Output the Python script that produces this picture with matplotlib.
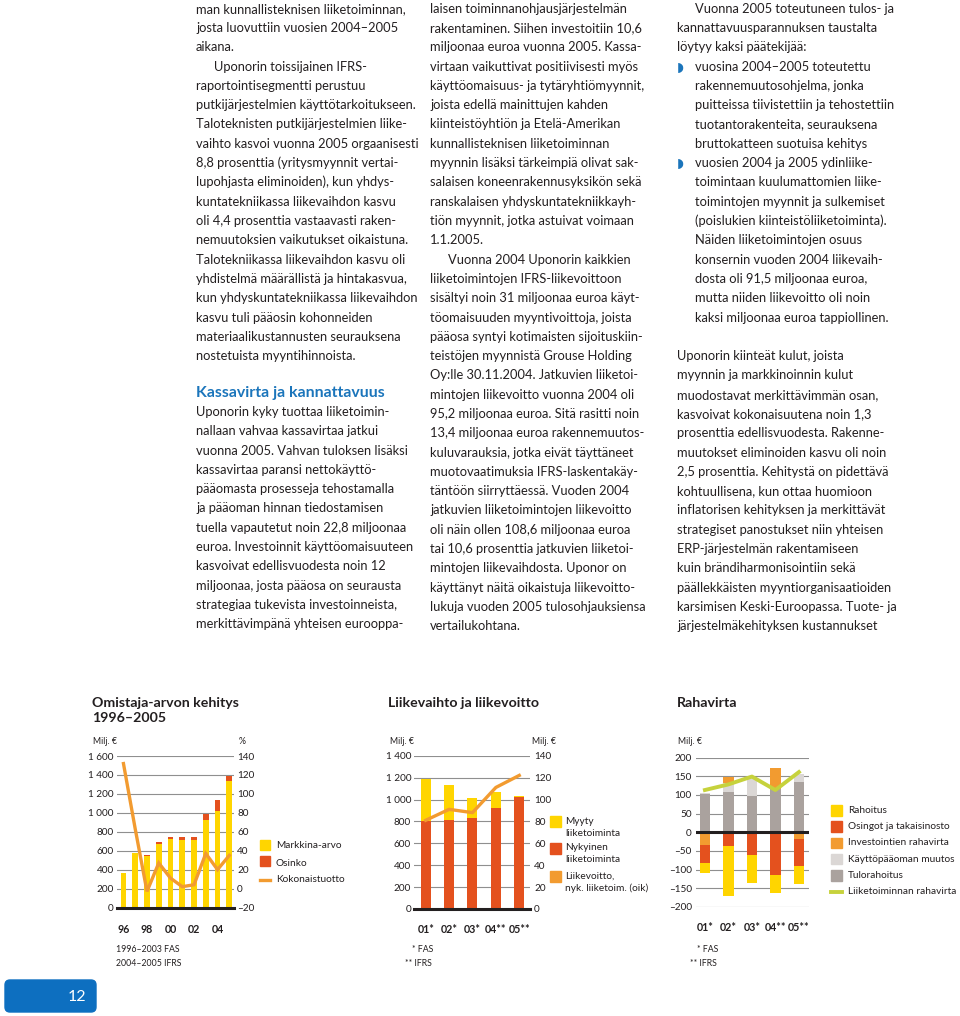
import numpy as np
import matplotlib
matplotlib.use('Agg')
import matplotlib.pyplot as plt
from matplotlib.patches import Rectangle, FancyBboxPatch

plt.rcParams['font.family'] = ['Lato', 'DejaVu Sans']

W, H = 960, 1016
INK = '#231f20'
BLUE = '#1b75bb'
YELLOW = '#ffd500'
RED = '#e4511e'
ORANGE = '#f29b30'
GRAY = '#aaa29e'
LIGHTGRAY = '#dbd7d5'
GREEN = '#c6d23c'
GRID = '#8f8f8f'

# --- Omistaja-arvon kehitys 1996-2005 ---
owner_years = ['96', '97', '98', '99', '00', '01', '02', '03', '04', '05']
market_value = [367, 571, 543, 670, 719, 713, 713, 927, 1022, 1336]
dividend = [0, 0, 15, 24, 25, 27, 27, 56, 113, 56]
total_return = [132, 63, -3, 27, 11, 2, 4, 37, 20, 35]

# --- Liikevaihto ja liikevoitto ---
period_labels = ['01*', '02*', '03*', '04**', '05**']
sales_current = [806, 813, 831, 919, 1020]
sales_divested = [381, 319, 182, 146, 9]
op_profit = [81, 91, 88, 111, 122]

# --- Rahavirta ---
financing = [-29, -133, -74, -48, -49]
dividends_buyback = [-46, -37, -62, -115, -72]
investments = [-35, 16, 0, 56, -18]
working_capital = [4, 24, 50, 0, 22]
funds_from_ops = [102, 107, 97, 115, 134]
operating_cf = [113, 128, 149, 113, 161]

BODY = 9.3
LINE = 19.3

col1 = [
    "man kunnallisteknisen liiketoiminnan,",
    "josta luovuttiin vuosien 2004–2005",
    "aikana.",
    "\tUponorin toissijainen IFRS-",
    "raportointisegmentti perustuu",
    "putkijärjestelmien käyttötarkoitukseen.",
    "Taloteknisten putkijärjestelmien liike-",
    "vaihto kasvoi vuonna 2005 orgaanisesti",
    "8,8 prosenttia (yritysmyynnit vertai-",
    "lupohjasta eliminoiden), kun yhdys-",
    "kuntatekniikassa liikevaihdon kasvu",
    "oli 4,4 prosenttia vastaavasti raken-",
    "nemuutoksien vaikutukset oikaistuna.",
    "Talotekniikassa liikevaihdon kasvu oli",
    "yhdistelmä määrällistä ja hintakasvua,",
    "kun yhdyskuntatekniikassa liikevaihdon",
    "kasvu tuli pääosin kohonneiden",
    "materiaalikustannusten seurauksena",
    "nostetuista myyntihinnoista.",
]
col1_b = [
    "Uponorin kyky tuottaa liiketoimin-",
    "nallaan vahvaa kassavirtaa jatkui",
    "vuonna 2005. Vahvan tuloksen lisäksi",
    "kassavirtaa paransi nettokäyttö-",
    "pääomasta prosesseja tehostamalla",
    "ja pääoman hinnan tiedostamisen",
    "tuella vapautetut noin 22,8 miljoonaa",
    "euroa. Investoinnit käyttöomaisuuteen",
    "kasvoivat edellisvuodesta noin 12",
    "miljoonaa, josta pääosa on seurausta",
    "strategiaa tukevista investoinneista,",
    "merkittävimpänä yhteisen eurooppa-",
]
col2 = [
    "laisen toiminnanohjausjärjestelmän",
    "rakentaminen. Siihen investoitiin 10,6",
    "miljoonaa euroa vuonna 2005. Kassa-",
    "virtaan vaikuttivat positiivisesti myös",
    "käyttöomaisuus- ja tytäryhtiömyynnit,",
    "joista edellä mainittujen kahden",
    "kiinteistöyhtiön ja Etelä-Amerikan",
    "kunnallisteknisen liiketoiminnan",
    "myynnin lisäksi tärkeimpiä olivat sak-",
    "salaisen koneenrakennusyksikön sekä",
    "ranskalaisen yhdyskuntatekniikkayh-",
    "tiön myynnit, jotka astuivat voimaan",
    "1.1.2005.",
    "\tVuonna 2004 Uponorin kaikkien",
    "liiketoimintojen IFRS-liikevoittoon",
    "sisältyi noin 31 miljoonaa euroa käyt-",
    "töomaisuuden myyntivoittoja, joista",
    "pääosa syntyi kotimaisten sijoituskiin-",
    "teistöjen myynnistä Grouse Holding",
    "Oy:lle 30.11.2004. Jatkuvien liiketoi-",
    "mintojen liikevoitto vuonna 2004 oli",
    "95,2 miljoonaa euroa. Sitä rasitti noin",
    "13,4 miljoonaa euroa rakennemuutos-",
    "kuluvarauksia, jotka eivät täyttäneet",
    "muotovaatimuksia IFRS-laskentakäy-",
    "täntöön siirryttäessä. Vuoden 2004",
    "jatkuvien liiketoimintojen liikevoitto",
    "oli näin ollen 108,6 miljoonaa euroa",
    "tai 10,6 prosenttia jatkuvien liiketoi-",
    "mintojen liikevaihdosta. Uponor on",
    "käyttänyt näitä oikaistuja liikevoitto-",
    "lukuja vuoden 2005 tulosohjauksiensa",
    "vertailukohtana.",
]
col3 = [
    "\tVuonna 2005 toteutuneen tulos- ja",
    "kannattavuusparannuksen taustalta",
    "löytyy kaksi päätekijää:",
    "•vuosina 2004–2005 toteutettu",
    "\trakennemuutosohjelma, jonka",
    "\tpuitteissa tiivistettiin ja tehostettiin",
    "\ttuotantorakenteita, seurauksena",
    "\tbruttokatteen suotuisa kehitys",
    "•vuosien 2004 ja 2005 ydinliike-",
    "\ttoimintaan kuulumattomien liike-",
    "\ttoimintojen myynnit ja sulkemiset",
    "\t(poislukien kiinteistöliiketoiminta).",
    "\tNäiden liiketoimintojen osuus",
    "\tkonsernin vuoden 2004 liikevaih-",
    "\tdosta oli 91,5 miljoonaa euroa,",
    "\tmutta niiden liikevoitto oli noin",
    "\tkaksi miljoonaa euroa tappiollinen.",
    "",
    "Uponorin kiinteät kulut, joista",
    "myynnin ja markkinoinnin kulut",
    "muodostavat merkittävimmän osan,",
    "kasvoivat kokonaisuutena noin 1,3",
    "prosenttia edellisvuodesta. Rakenne-",
    "muutokset eliminoiden kasvu oli noin",
    "2,5 prosenttia. Kehitystä on pidettävä",
    "kohtuullisena, kun ottaa huomioon",
    "inflatorisen kehityksen ja merkittävät",
    "strategiset panostukset niin yhteisen",
    "ERP-järjestelmän rakentamiseen",
    "kuin brändiharmonisointiin sekä",
    "päällekkäisten myyntiorganisaatioiden",
    "karsimisen Keski-Euroopassa. Tuote- ja",
    "järjestelmäkehityksen kustannukset",
]

fig = plt.figure(figsize=(9.6, 10.16), dpi=100)
page = fig.add_axes([0, 0, 1, 1])
page.set_xlim(0, W)
page.set_ylim(H, 0)
page.axis('off')


def write_column(x, y0, lines, indent=18):
    for i, s in enumerate(lines):
        y = y0 + i * LINE
        dx = 0
        if s.startswith('\t'):
            s = s[1:]
            dx = indent
        elif s.startswith('•'):
            s = s[1:]
            dx = indent
            page.text(x, y, '◗', color=BLUE, fontsize=9.5,
                      family='DejaVu Sans', va='baseline')
        page.text(x + dx, y, s, fontsize=BODY, color=INK, va='baseline')


write_column(196, 12.7, col1)
page.text(196, 397, "Kassavirta ja kannattavuus", fontsize=11.4,
          fontweight='bold', color=BLUE, va='baseline')
write_column(196, 416, col1_b)
write_column(430, 12.7, col2)
write_column(677, 12.7, col3)


def chart_axes(x0, x1, ytop, ybot):
    ax = fig.add_axes([x0 / W, 1 - ybot / H, (x1 - x0) / W, (ybot - ytop) / H])
    for s in ax.spines.values():
        s.set_visible(False)
    ax.patch.set_alpha(0)
    ax.tick_params(length=0, labelsize=7.2, colors=INK)
    return ax


def num(v):
    s = f"{abs(v):,}".replace(',', ' ')
    return ('–' if v < 0 else '') + s


def small(x, y, s, **kw):
    page.text(x, y, s, fontsize=kw.pop('fontsize', 6.3), color=INK,
              va='center', **kw)


# ---------- chart 1 ----------
page.text(92, 703, "Omistaja-arvon kehitys", fontsize=10.2, fontweight='bold',
          color=INK, va='center')
page.text(92, 718, "1996–2005", fontsize=10.2, fontweight='bold',
          color=INK, va='center')
small(93, 742, "Milj. €")
small(239, 742, "%")

ax1 = chart_axes(117, 234, 756, 907.5)
x1 = np.arange(len(owner_years))
ax1.bar(x1, market_value, 0.5, color=YELLOW)
ax1.bar(x1, dividend, 0.5, bottom=market_value, color=RED)
ax1.set_ylim(0, 1600)
ax1.set_xlim(-0.55, 9.4)
ax1.set_yticks(range(0, 1601, 200))
ax1.set_yticklabels([num(v) for v in range(0, 1601, 200)])
ax1.grid(axis='y', color=GRID, lw=0.8)
ax1.set_axisbelow(True)
ax1.axhline(0, color=INK, lw=2.2, clip_on=False, zorder=5)
ax1.set_xticks(x1[::2])
ax1.set_xticklabels(owner_years[::2], fontweight='bold', fontsize=7.7)
ax1.tick_params(axis='x', pad=12)
ax1.tick_params(axis='y', pad=2.2)
ax1r = ax1.twinx()
for s in ax1r.spines.values():
    s.set_visible(False)
ax1r.plot(x1, total_return, color=ORANGE, lw=2.4, solid_joinstyle='miter')
ax1r.set_ylim(-20, 140)
ax1r.set_yticks(range(-20, 141, 20))
ax1r.set_yticklabels([num(v) for v in range(-20, 141, 20)])
ax1r.tick_params(length=0, labelsize=7.2, colors=INK, pad=2.2)

page.add_patch(Rectangle((259.5, 840), 10, 10, color=YELLOW))
page.add_patch(Rectangle((259.5, 856), 10, 10, color=RED))
page.plot([259.5, 269.5], [880, 880], color=ORANGE, lw=2.4)
small(276, 846, "Markkina-arvo", fontsize=7.3)
small(276, 863, "Osinko", fontsize=7.3)
small(276, 879, "Kokonaistuotto", fontsize=7.3)
small(116, 949, "1996–2003 FAS")
small(116, 963, "2004–2005 IFRS")

# ---------- chart 2 ----------
page.text(388, 703, "Liikevaihto ja liikevoitto", fontsize=10.2, fontweight='bold',
          color=INK, va='center')
small(390, 742, "Milj. €")
small(532, 742, "Milj. €")

ax2 = chart_axes(414, 530, 755.7, 909)
x2 = np.arange(len(period_labels))
ax2.bar(x2, sales_current, 0.43, color=RED)
ax2.bar(x2, sales_divested, 0.43, bottom=sales_current, color=YELLOW)
ax2.set_ylim(0, 1400)
ax2.set_xlim(-0.5, 4.46)
ax2.set_yticks(range(0, 1401, 200))
ax2.set_yticklabels([num(v) for v in range(0, 1401, 200)])
ax2.grid(axis='y', color=GRID, lw=0.8)
ax2.set_axisbelow(True)
ax2.axhline(0, color=INK, lw=2.2, clip_on=False, zorder=5)
ax2.set_xticks(x2)
ax2.set_xticklabels(period_labels, fontweight='bold', fontsize=7.7)
ax2.tick_params(axis='x', pad=11)
ax2.tick_params(axis='y', pad=2)
ax2r = ax2.twinx()
for s in ax2r.spines.values():
    s.set_visible(False)
ax2r.plot(x2, op_profit, color=ORANGE, lw=2.4)
ax2r.set_ylim(0, 140)
ax2r.set_yticks(range(0, 141, 20))
ax2r.tick_params(length=0, labelsize=7.2, colors=INK, pad=3)

page.add_patch(Rectangle((550, 816), 10.5, 11, color=YELLOW))
page.add_patch(Rectangle((550, 843), 10.5, 11, color=RED))
page.add_patch(Rectangle((550, 871), 10.5, 11, color=ORANGE))
small(565, 821, "Myyty", fontsize=7.3)
small(565, 833, "liiketoiminta", fontsize=7.3)
small(565, 848, "Nykyinen", fontsize=7.3)
small(565, 860, "liiketoiminta", fontsize=7.3)
small(565, 876, "Liikevoitto,", fontsize=7.3)
small(565, 888, "nyk. liiketoim. (oik)", fontsize=7.3)
small(412, 949, "* FAS")
small(405, 963, "** IFRS")

# ---------- chart 3 ----------
page.text(677, 703, "Rahavirta", fontsize=10.2, fontweight='bold',
          color=INK, va='center')
small(678, 742, "Milj. €")

ax3 = chart_axes(696, 809, 757.5, 907)
x3 = np.arange(len(period_labels))
pos_base = np.zeros(len(x3))
neg_base = np.zeros(len(x3))
for series, color in [(funds_from_ops, GRAY), (working_capital, LIGHTGRAY),
                      (investments, ORANGE), (dividends_buyback, RED),
                      (financing, YELLOW)]:
    v = np.array(series, dtype=float)
    pos = np.where(v > 0, v, 0)
    neg = np.where(v < 0, v, 0)
    ax3.bar(x3, pos, 0.45, bottom=pos_base, color=color)
    ax3.bar(x3, neg, 0.45, bottom=neg_base, color=color)
    pos_base += pos
    neg_base += neg
ax3.plot(x3, operating_cf, color=GREEN, lw=2.8)
ax3.set_ylim(-200, 200)
ax3.set_xlim(-0.38, 4.43)
ax3.set_yticks(range(-200, 201, 50))
ax3.set_yticklabels([num(v) for v in range(-200, 201, 50)])
ax3.grid(axis='y', color=GRID, lw=0.8)
ax3.set_axisbelow(True)
ax3.axhline(0, color=INK, lw=2.2, zorder=5)
ax3.set_xticks(x3)
ax3.set_xticklabels(period_labels, fontweight='bold', fontsize=7.7)
ax3.tick_params(axis='x', pad=11)
ax3.tick_params(axis='y', pad=3)

legend3 = [("Rahoitus", YELLOW), ("Osingot ja takaisinosto", RED),
           ("Investointien rahavirta", ORANGE), ("Käyttöpääoman muutos", LIGHTGRAY),
           ("Tulorahoitus", GRAY)]
for i, (lab, c) in enumerate(legend3):
    yc = 810.5 + i * 16.2
    page.add_patch(Rectangle((831, yc - 5.3), 11, 10.6, color=c))
    small(848, yc, lab, fontsize=7.3)
page.plot([831, 842], [891.7, 891.7], color=GREEN, lw=2.8)
small(848, 891.7, "Liiketoiminnan rahavirta", fontsize=7.3)
small(697, 949, "* FAS")
small(690, 963, "** IFRS")

# page number tab
page.add_patch(FancyBboxPatch((5, 980), 91, 32,
                              boxstyle='round,pad=0,rounding_size=5',
                              color='#0d6fc0'))
page.text(77, 997, "12", fontsize=11.5, color='white', ha='center', va='center')

fig.savefig('out.png', dpi=100)
